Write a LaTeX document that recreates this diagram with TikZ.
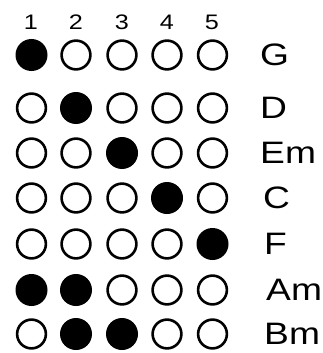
\documentclass[tikz,border=0pt]{standalone}
\usepackage{fontspec}
\setmainfont{Liberation Sans}
\newfontfamily\widesans[FakeStretch=1.2]{Liberation Sans}
\begin{document}
\begin{tikzpicture}[x=1pt,y=-1pt,
  hole/.style={circle,draw=black,line width=2.6pt,fill=white,minimum size=28.8pt,inner sep=0pt},
  shut/.style={circle,fill=black,draw=none,minimum size=32pt,inner sep=0pt},
  chord/.style={anchor=west,inner sep=0pt,font=\widesans\fontsize{31}{31}\selectfont},
  num/.style={inner sep=0pt,font=\widesans\fontsize{21}{21}\selectfont}]
\useasboundingbox (0,0) rectangle (322,353);
% column numbers
\foreach \c/\x in {1/31,2/76,3/122,4/167,5/212}
  \node[num] (n\c) at (\x,22.5) {\c};
% rows: name, y, label x, filled columns
\foreach \r/\y/\lx/\fa/\fb in {
  G/55/260/1/0,
  D/108/260/2/0,
  Em/153/260/3/0,
  C/198/263/4/0,
  F/244/264/5/0,
  Am/290/266/1/2,
  Bm/334/264/2/3}{
  \foreach \c/\x in {1/31.5,2/76,3/122,4/167,5/212.5}{
    \pgfmathtruncatemacro{\isfilled}{(\c==\fa)||(\c==\fb)}
    \ifnum\isfilled=1
      \node[shut] (h\r\c) at (\x,\y) {};
    \else
      \node[hole] (h\r\c) at (\x,\y) {};
    \fi
  }
  \node[chord] (l\r) at (\lx,\y) {\r};
}
\end{tikzpicture}
\end{document}
